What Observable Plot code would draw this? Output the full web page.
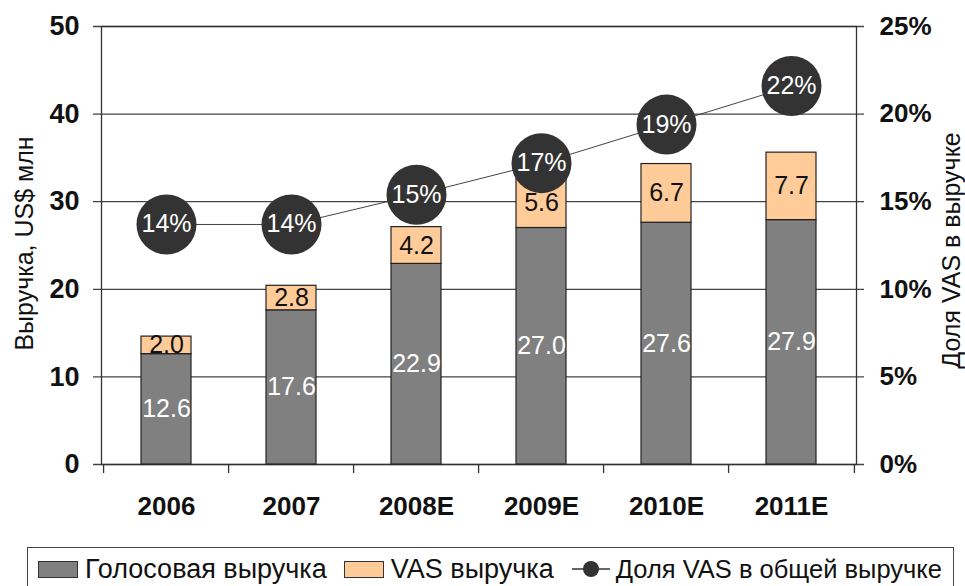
<!DOCTYPE html>
<html><head><meta charset="utf-8">
<script src="https://cdn.jsdelivr.net/npm/d3@7"></script>
<script src="https://cdn.jsdelivr.net/npm/@observablehq/plot@0.6"></script>
<style>
body{margin:0;background:#fff;font-family:"Liberation Sans",Arial,sans-serif;overflow:hidden;}
#chart{position:absolute;left:0;top:0;}
#legend{position:absolute;left:27px;top:547px;width:927px;height:60px;border:1.5px solid #444;box-sizing:border-box;
  display:flex;align-items:flex-start;padding-top:6px;padding-left:10px;font-size:27px;line-height:30px;color:#111;white-space:nowrap;}
.sw{display:inline-block;width:40px;height:17px;border:1px solid #333;box-sizing:border-box;margin-top:7px;margin-right:7px;}
.item{display:flex;align-items:flex-start;margin-right:17px;}
</style></head><body>
<div id="chart"></div>
<div id="legend"></div>
<script>
const years = ["2006","2007","2008E","2009E","2010E","2011E"];
const voice = [12.6,17.6,22.9,27.0,27.6,27.9];
const vas = [2.0,2.8,4.2,5.6,6.7,7.7];
const share = [13.7,13.7,15.4,17.2,19.4,21.6];
const shareLabels = ["14%","14%","15%","17%","19%","22%"];
const leftTicks = [0,10,20,30,40,50];
const rightTicks = ["0%","5%","10%","15%","20%","25%"];
const seriesNames = ["Голосовая выручка","VAS выручка","Доля VAS в общей выручке"];
const colors = ["#808080","#FFCC99","#333333"];
const leftTitle = "Выручка, US$ млн";
const rightTitle = "Доля VAS в выручке";

const W = 965, H = 540, mL = 101, mR = 109, mT = 26, mB = 76;
const step = (W - mL - mR) / years.length;
const shareMax = 25, leftMax = 50;
const toLeft = s => s / shareMax * leftMax;

const rows = [];
years.forEach((y, i) => {
  rows.push({year: y, series: seriesNames[0], value: voice[i], mid: voice[i] / 2});
  rows.push({year: y, series: seriesNames[1], value: vas[i], mid: voice[i] + vas[i] / 2});
});
const shareRows = years.map((y, i) => ({year: y, s: toLeft(share[i]), label: shareLabels[i]}));

const font = "Liberation Sans, Arial, sans-serif";
const chart = Plot.plot({
  width: W, height: H,
  marginLeft: mL, marginRight: mR, marginTop: mT, marginBottom: mB,
  style: {fontFamily: font, background: "#fff", color: "#111"},
  x: {domain: years, paddingInner: 0.6, paddingOuter: 0.3, label: null},
  y: {domain: [0, leftMax], label: null},
  color: {domain: seriesNames.slice(0, 2), range: colors.slice(0, 2)},
  marks: [
    Plot.ruleY(leftTicks, {stroke: "#444", strokeWidth: 1.3, insetLeft: -8, insetRight: -8}),
    Plot.frame({stroke: "#333", strokeWidth: 1.3, fill: "none"}),
    Plot.ruleX(years, {x: d => d, dx: -step / 2, y1: 0, y2: 0, insetBottom: -9, stroke: "#333", strokeWidth: 1.3}),
    Plot.ruleX(years.slice(-1), {x: d => d, dx: step / 2, y1: 0, y2: 0, insetBottom: -9, stroke: "#333", strokeWidth: 1.3}),
    Plot.barY(rows, {x: "year", y: "value", fill: "series", stroke: "#222", strokeWidth: 1.2}),
    Plot.text(rows, {x: "year", y: "mid", text: d => d.value.toFixed(1), fontSize: 25,
      fill: d => d.series === seriesNames[0] ? "#fff" : "#111"}),
    Plot.line(shareRows, {x: "year", y: "s", stroke: "#444", strokeWidth: 1}),
    Plot.dot(shareRows, {x: "year", y: "s", r: 30, fill: colors[2], stroke: "none"}),
    Plot.text(shareRows, {x: "year", y: "s", text: "label", fill: "#fff", fontSize: 25}),
    Plot.axisX({tickSize: 0, tickPadding: 32, fontSize: 26, fontWeight: "bold", label: null}),
    Plot.axisY({ticks: leftTicks, tickSize: 0, tickPadding: 22, fontSize: 27, fontWeight: "bold", label: null}),
    Plot.axisY({anchor: "right", ticks: leftTicks, tickFormat: (d) => rightTicks[leftTicks.indexOf(d)], tickSize: 0, tickPadding: 23, fontSize: 26, fontWeight: "bold", label: null}),
    Plot.text([leftTitle], {text: d => d, frameAnchor: "left", textAnchor: "middle", dx: -77, dy: -2, rotate: -90, fontSize: 25, fill: "#111"}),
    Plot.text([rightTitle], {text: d => d, frameAnchor: "right", textAnchor: "middle", dx: 95, dy: 5, rotate: -90, fontSize: 25, fill: "#111"})
  ]
});
document.getElementById("chart").appendChild(chart);

const legend = document.getElementById("legend");
seriesNames.forEach((name, i) => {
  const item = document.createElement("div");
  item.className = "item";
  if (i < 2) {
    const sw = document.createElement("span");
    sw.className = "sw";
    sw.style.background = colors[i];
    item.appendChild(sw);
  } else {
    const ns = "http://www.w3.org/2000/svg";
    const svg = document.createElementNS(ns, "svg");
    svg.setAttribute("width", 40); svg.setAttribute("height", 30);
    svg.style.marginRight = "5px";
    const ln = document.createElementNS(ns, "line");
    ln.setAttribute("x1", 1); ln.setAttribute("x2", 39); ln.setAttribute("y1", 15); ln.setAttribute("y2", 15);
    ln.setAttribute("stroke", "#333"); ln.setAttribute("stroke-width", 1.5);
    const c = document.createElementNS(ns, "circle");
    c.setAttribute("cx", 20); c.setAttribute("cy", 15); c.setAttribute("r", 8); c.setAttribute("fill", colors[2]);
    svg.appendChild(ln); svg.appendChild(c);
    item.appendChild(svg);
  }
  const t = document.createElement("span");
  t.textContent = name;
  if (i === 2) t.style.fontSize = "25.5px";
  item.appendChild(t);
  legend.appendChild(item);
});
</script>
</body></html>
